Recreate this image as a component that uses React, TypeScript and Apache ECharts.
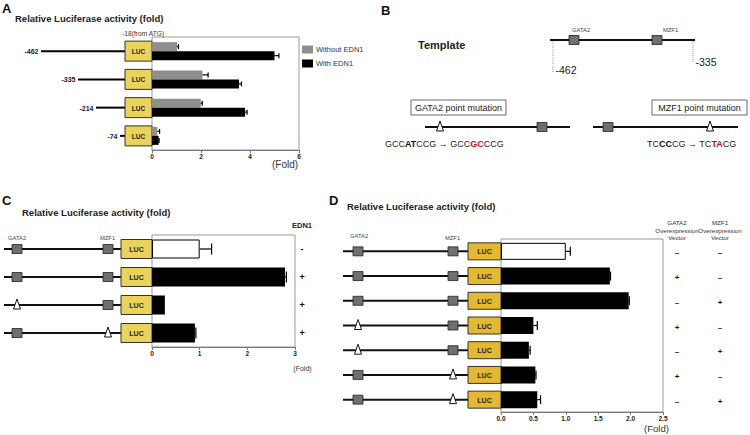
import React, { useEffect, useRef } from "react";
import * as echarts from "echarts";

const FONT = "'Liberation Sans', Arial, Helvetica, sans-serif";

// ---------------- Panel A data ----------------
const aConstructs = ["-462", "-335", "-214", "-74"];
const aSeriesNames = ["Without EDN1", "With EDN1"];
const aWithout = [1.02, 2.06, 1.99, 0.22];
const aWithoutErr = [0.06, 0.23, 0.06, 0.09];
const aWith = [5.0, 3.55, 3.8, 0.27];
const aWithErr = [0.18, 0.1, 0.08, 0.02];
const aTicks = [0, 2, 4, 6];

// ---------------- Panel B data ----------------
const bTemplateEnds = ["-462", "-335"];
const bSites = ["GATA2", "MZF1"];
const bMutationTitles = ["GATA2 point mutation", "MZF1 point mutation"];
const bGataSeq = ["GCCATCCG", "GCCGCCCG"];
const bGataChanged = [3, 4];
const bMzfSeq = ["TCCCCG", "TCTACG"];
const bMzfChanged = [2, 3];

// ---------------- Panel C data ----------------
const cRows = ["WT -EDN1", "WT +EDN1", "GATA2 mut +EDN1", "MZF1 mut +EDN1"];
const cValues = [1.0, 2.79, 0.27, 0.9];
const cErr = [0.25, 0.03, 0.0, 0.02];
const cEDN1 = ["-", "+", "+", "+"];
const cGata2Site = ["wt", "wt", "mut", "wt"];
const cMzf1Site = ["wt", "wt", "wt", "mut"];
const cTicks = [0, 1, 2, 3];

// ---------------- Panel D data ----------------
const dRows = ["WT", "WT +GATA2", "WT +MZF1", "GATA2 mut +GATA2", "GATA2 mut +MZF1", "MZF1 mut +GATA2", "MZF1 mut +MZF1"];
const dValues = [1.0, 1.68, 1.97, 0.5, 0.43, 0.53, 0.56];
const dErr = [0.07, 0.01, 0.01, 0.06, 0.02, 0.01, 0.05];
const dGata2Site = ["wt", "wt", "wt", "mut", "mut", "wt", "wt"];
const dMzf1Site = ["wt", "wt", "wt", "wt", "wt", "mut", "mut"];
const dGata2Vector = ["–", "+", "–", "+", "–", "+", "–"];
const dMzf1Vector = ["–", "–", "+", "–", "+", "–", "+"];
const dTicks = [0, 0.5, 1.0, 1.5, 2.0, 2.5];

// ---------------- helpers ----------------
const T = (x: number, y: number, text: string, size: number, o: any = {}) => ({
  type: "text",
  x,
  y,
  silent: true,
  style: {
    text,
    fontSize: size,
    fontFamily: FONT,
    fontWeight: o.bold ? "bold" : "normal",
    fill: o.color ?? "#222",
    textFill: o.color ?? "#222",
    textAlign: o.align ?? "left",
    align: o.align ?? "left",
    textVerticalAlign: o.valign ?? "middle",
    verticalAlign: o.valign ?? "middle",
    ...(o.rich ? { rich: o.rich } : {}),
    ...(o.lineHeight ? { lineHeight: o.lineHeight, textLineHeight: o.lineHeight } : {}),
  },
});

const site = (x: number, y: number, kind: string) =>
  kind === "mut"
    ? {
        type: "polygon",
        shape: { points: [[x, y - 6], [x - 3.5, y + 4], [x + 3.5, y + 4]] },
        style: { fill: "#fff", stroke: "#111", lineWidth: 1 },
      }
    : {
        type: "rect",
        shape: { x: x - 5, y: y - 4.5, width: 10, height: 9 },
        style: { fill: "#6f6f6f", stroke: "#222", lineWidth: 0.8 },
      };

const luc = (x: number, y: number, w: number, h: number, color: string, fs: number) => [
  { type: "rect", shape: { x, y: y - h / 2, width: w, height: h }, style: { fill: color, stroke: "#333", lineWidth: 1 } },
  T(x + w / 2, y + 0.5, "LUC", fs, { bold: true, align: "center", color: "#222" }),
];

const markSeq = (seq: string, idx: number[], tag: string) =>
  seq.slice(0, idx[0]) + "{" + tag + "|" + seq.slice(idx[0], idx[1] + 1) + "}" + seq.slice(idx[1] + 1);

const axisX = (grid: number, ticks: number[], fmt?: (v: number) => string) => ({
  gridIndex: grid,
  type: "value",
  min: ticks[0],
  max: ticks[ticks.length - 1],
  interval: ticks[1] - ticks[0],
  axisLine: { show: true, lineStyle: { color: "#777", width: 1 } },
  axisTick: { show: true, length: 3, lineStyle: { color: "#777" } },
  splitLine: { show: false },
  axisLabel: {
    fontSize: 6.5,
    fontWeight: "bold",
    color: "#222",
    fontFamily: FONT,
    margin: 3,
    ...(fmt ? { formatter: fmt } : {}),
  },
});

const axisY = (grid: number, rows: string[]) => ({
  gridIndex: grid,
  type: "category",
  data: rows,
  inverse: true,
  show: false,
});

const errSeries = (axis: number, vals: number[], errs: number[], off: number, cap: number) => ({
  type: "custom",
  xAxisIndex: axis,
  yAxisIndex: axis,
  silent: true,
  z: 5,
  data: vals.map((v, i) => [v, i, v + errs[i]]),
  encode: { x: [0, 2], y: 1 },
  renderItem: (params: any, api: any) => {
    const i = params.dataIndex;
    const s = api.coord([vals[i], i]);
    const e = api.coord([vals[i] + errs[i], i]);
    if (errs[i] <= 0) return { type: "group", children: [] };
    const y = s[1] + off;
    return {
      type: "group",
      children: [
        { type: "line", shape: { x1: s[0], y1: y, x2: e[0], y2: y }, style: { stroke: "#000", lineWidth: 1.2 } },
        { type: "line", shape: { x1: e[0], y1: y - cap, x2: e[0], y2: y + cap }, style: { stroke: "#000", lineWidth: 1.2 } },
      ],
    };
  },
});

export default function App() {
  const ref = useRef<HTMLDivElement>(null);

  useEffect(() => {
    if (!ref.current) return;
    const chart = echarts.init(ref.current, undefined, { renderer: "svg" });

    const aLineStart = [41, 78, 96, 120];

    const diagramA = {
      type: "custom",
      xAxisIndex: 0,
      yAxisIndex: 0,
      silent: true,
      data: aConstructs.map((_, i) => [0, i]),
      encode: { x: 0, y: 1 },
      renderItem: (params: any, api: any) => {
        const i = params.dataIndex;
        const [gx, y] = api.coord([0, i]);
        const lucL = gx - 27;
        return {
          type: "group",
          children: [
            { type: "line", shape: { x1: aLineStart[i], y1: y, x2: lucL, y2: y }, style: { stroke: "#000", lineWidth: 2 } },
            T(aLineStart[i] - 2.5, y + 0.5, aConstructs[i], 7, { bold: true, align: "right", color: "#222" }),
            ...luc(lucL, y, 27, 20, "#E9D35C", 6.5),
          ],
        };
      },
    };

    const diagramCD = (
      axis: number,
      rows: string[],
      cfg: any
    ) => ({
      type: "custom",
      xAxisIndex: axis,
      yAxisIndex: axis,
      silent: true,
      data: rows.map((_, i) => [0, i]),
      encode: { x: 0, y: 1 },
      renderItem: (params: any, api: any) => {
        const i = params.dataIndex;
        const [gx, y] = api.coord([0, i]);
        const lucL = gx - cfg.lucW;
        const children: any[] = [
          { type: "line", shape: { x1: cfg.lineStart, y1: y, x2: lucL, y2: y }, style: { stroke: "#111", lineWidth: 2 } },
          site(cfg.gataX, y, cfg.gata[i]),
          site(cfg.mzfX, y, cfg.mzf[i]),
          ...luc(lucL, y, cfg.lucW, cfg.lucH, cfg.lucColor, 7),
        ];
        cfg.signs.forEach((s: any) => {
          children.push(T(s.x, y + s.dy, s.values[i], s.size, { bold: true, align: "center", color: "#111" }));
        });
        return { type: "group", children };
      },
    });

    const cBarData = cValues.map((v, i) => ({
      value: v,
      itemStyle: cEDN1[i] === "-" ? { color: "#fff", borderColor: "#000", borderWidth: 1 } : { color: "#000" },
    }));
    const dBarData = dValues.map((v, i) => ({
      value: v,
      itemStyle:
        dGata2Vector[i] !== "+" && dMzf1Vector[i] !== "+"
          ? { color: "#fff", borderColor: "#000", borderWidth: 1 }
          : { color: "#000" },
    }));

    const graphics: any[] = [
      // panel letters & titles
      T(2, 8.5, "A", 13, { bold: true, color: "#111" }),
      T(15, 18, "Relative Luciferase activity (fold)", 9.5, { bold: true, color: "#222" }),
      T(122, 33, "-18(from ATG)", 6.7, { color: "#333" }),
      T(272, 164.5, "(Fold)", 10, { color: "#333" }),

      T(381, 10.5, "B", 13, { bold: true, color: "#111" }),
      T(2, 200.5, "C", 13, { bold: true, color: "#111" }),
      T(22, 212, "Relative Luciferase activity (fold)", 9.5, { bold: true, color: "#222" }),
      T(302, 225, "EDN1", 7.5, { bold: true, align: "center", color: "#222" }),
      T(302.5, 368, "(Fold)", 7, { align: "center", color: "#333" }),
      T(8, 238, bSites[0], 5.8, { color: "#444" }),
      T(100, 238, bSites[1], 5.8, { color: "#444" }),

      T(329, 200, "D", 13, { bold: true, color: "#111" }),
      T(347, 206, "Relative Luciferase activity (fold)", 9.5, { bold: true, color: "#222" }),
      T(656.5, 428, "(Fold)", 9.5, { align: "center", color: "#333" }),
      T(350, 236, bSites[0], 5.8, { color: "#444" }),
      T(445, 238, bSites[1], 5.8, { color: "#444" }),
      T(677, 219, "GATA2\nOverexpression\nVector", 6.2, { align: "center", valign: "top", color: "#333", lineHeight: 7.4 }),
      T(720, 219, "MZF1\nOverexpression\nVector", 6.2, { align: "center", valign: "top", color: "#333", lineHeight: 7.4 }),

      // panel B: template
      T(418, 45, "Template", 11, { bold: true, color: "#222" }),
      { type: "line", shape: { x1: 550, y1: 40, x2: 695, y2: 40 }, style: { stroke: "#111", lineWidth: 2 } },
      { type: "line", shape: { x1: 553, y1: 41, x2: 553, y2: 72 }, style: { stroke: "#999", lineWidth: 1, lineDash: [1, 1] } },
      { type: "line", shape: { x1: 693, y1: 41, x2: 693, y2: 63 }, style: { stroke: "#999", lineWidth: 1, lineDash: [1, 1] } },
      site(574, 40, "wt"),
      site(657, 40, "wt"),
      T(572, 30, bSites[0], 5.8, { color: "#444" }),
      T(663, 30, bSites[1], 5.8, { color: "#444" }),
      T(555.5, 69.5, bTemplateEnds[0], 10.5, { color: "#222" }),
      T(695.5, 62, bTemplateEnds[1], 10.5, { color: "#222" }),

      // panel B: mutations
      { type: "rect", shape: { x: 411, y: 100, width: 95, height: 15 }, style: { fill: "#fff", stroke: "#444", lineWidth: 0.8 } },
      T(458.5, 107.8, bMutationTitles[0], 9, { align: "center", color: "#222" }),
      { type: "rect", shape: { x: 652, y: 100, width: 95, height: 15 }, style: { fill: "#fff", stroke: "#444", lineWidth: 0.8 } },
      T(699.5, 107.8, bMutationTitles[1], 9, { align: "center", color: "#222" }),
      { type: "line", shape: { x1: 425, y1: 127, x2: 570, y2: 127 }, style: { stroke: "#111", lineWidth: 2 } },
      site(440, 127, "mut"),
      site(542, 127, "wt"),
      { type: "line", shape: { x1: 593, y1: 127, x2: 738, y2: 127 }, style: { stroke: "#111", lineWidth: 2 } },
      site(608, 127, "wt"),
      site(710, 127, "mut"),
      T(385, 143.5, markSeq(bGataSeq[0], bGataChanged, "b") + " \u2192 " + markSeq(bGataSeq[1], bGataChanged, "r"), 9, {
        color: "#222",
        rich: {
          b: { fontWeight: "bold", fontSize: 9, fontFamily: FONT, fill: "#111", textFill: "#111" },
          r: { fontWeight: "bold", fontSize: 9, fontFamily: FONT, fill: "#D0102A", textFill: "#D0102A" },
        },
      }),
      T(647, 143.5, markSeq(bMzfSeq[0], bMzfChanged, "b") + " \u2192 " + markSeq(bMzfSeq[1], bMzfChanged, "r"), 9, {
        color: "#222",
        rich: {
          b: { fontWeight: "bold", fontSize: 9, fontFamily: FONT, fill: "#111", textFill: "#111" },
          r: { fontWeight: "bold", fontSize: 9, fontFamily: FONT, fill: "#D0102A", textFill: "#D0102A" },
        },
      }),
    ];

    const option: any = {
      animation: false,
      backgroundColor: "#fff",
      textStyle: { fontFamily: FONT },
      grid: [
        { left: 152, top: 37, width: 147, height: 113, show: true, borderColor: "#999", borderWidth: 1 },
        { left: 152, top: 235, width: 143, height: 112, show: true, borderColor: "#999", borderWidth: 1 },
        { left: 501, top: 239, width: 162, height: 173, show: true, borderColor: "#999", borderWidth: 1 },
      ],
      xAxis: [
        axisX(0, aTicks),
        axisX(1, cTicks),
        axisX(2, dTicks, (v: number) => v.toFixed(1)),
      ],
      yAxis: [axisY(0, aConstructs), axisY(1, cRows), axisY(2, dRows)],
      legend: {
        data: aSeriesNames,
        orient: "vertical",
        left: 302,
        top: 45.5,
        itemWidth: 11,
        itemHeight: 8,
        itemGap: 6,
        icon: "rect",
        padding: 0,
        textStyle: { fontSize: 7.5, color: "#333", fontFamily: FONT, padding: [0, 0, 0, -2] },
      },
      series: [
        {
          type: "bar",
          name: aSeriesNames[0],
          xAxisIndex: 0,
          yAxisIndex: 0,
          data: aWithout,
          barWidth: 9,
          barGap: "0%",
          itemStyle: { color: "#8e8e8e" },
        },
        {
          type: "bar",
          name: aSeriesNames[1],
          xAxisIndex: 0,
          yAxisIndex: 0,
          data: aWith,
          barWidth: 9,
          barGap: "0%",
          itemStyle: { color: "#000" },
        },
        errSeries(0, aWithout, aWithoutErr, -4.5, 2.5),
        errSeries(0, aWith, aWithErr, 4.5, 2.5),
        diagramA,

        { type: "bar", xAxisIndex: 1, yAxisIndex: 1, data: cBarData, barWidth: 19 },
        errSeries(1, cValues, cErr, 0, 5.5),
        diagramCD(1, cRows, {
          lineStart: 4,
          gataX: 17,
          mzfX: 108,
          lucW: 31,
          lucH: 19,
          lucColor: "#E9D35C",
          gata: cGata2Site,
          mzf: cMzf1Site,
          signs: [{ x: 302, dy: 0, values: cEDN1, size: 9 }],
        }),

        { type: "bar", xAxisIndex: 2, yAxisIndex: 2, data: dBarData, barWidth: 17 },
        errSeries(2, dValues, dErr, 0, 4.5),
        diagramCD(2, dRows, {
          lineStart: 343,
          gataX: 358,
          mzfX: 453,
          lucW: 33,
          lucH: 17,
          lucColor: "#E4B92F",
          gata: dGata2Site,
          mzf: dMzf1Site,
          signs: [
            { x: 677, dy: 1.5, values: dGata2Vector, size: 8 },
            { x: 720, dy: 1.5, values: dMzf1Vector, size: 8 },
          ],
        }),
      ],
      graphic: graphics,
    };

    chart.setOption(option);
    return () => chart.dispose();
  }, []);

  return (
    <div
      ref={ref}
      style={{ position: "fixed", left: 0, top: 0, width: 750, height: 435, background: "#fff" }}
    />
  );
}
